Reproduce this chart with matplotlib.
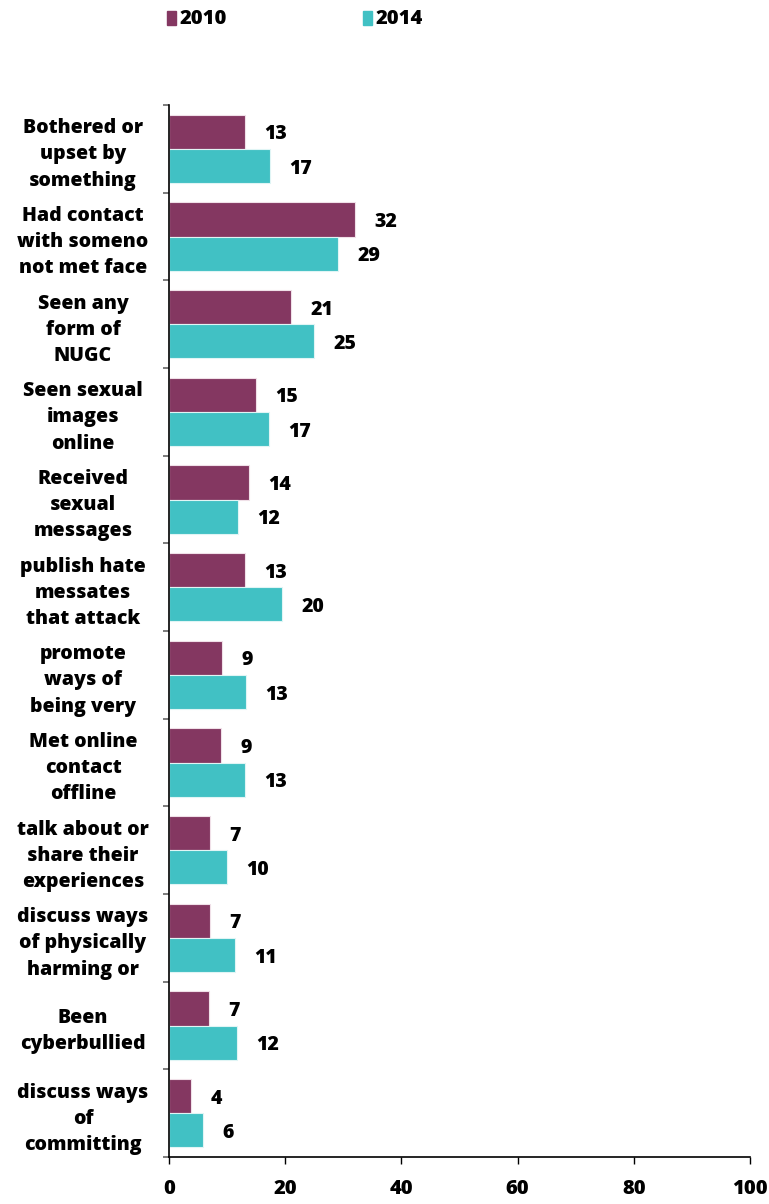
import matplotlib
matplotlib.use("Agg")
import matplotlib.pyplot as plt
import numpy as np
from matplotlib.patches import Rectangle

categories = [
    "Bothered or\nupset by\nsomething",
    "Had contact\nwith someno\nnot met face",
    "Seen any\nform of\nNUGC",
    "Seen sexual\nimages\nonline",
    "Received\nsexual\nmessages",
    "publish hate\nmessates\nthat attack",
    "promote\nways of\nbeing very",
    "Met online\ncontact\noffline",
    "talk about or\nshare their\nexperiences",
    "discuss ways\nof physically\nharming or",
    "Been\ncyberbullied",
    "discuss ways\nof\ncommitting",
]
series = ["2010", "2014"]
values_2010 = [13.1, 32.0, 21.0, 14.9, 13.8, 13.0, 9.2, 9.0, 7.1, 7.1, 6.8, 3.8]
values_2014 = [17.3, 29.1, 25.0, 17.2, 11.9, 19.5, 13.3, 13.0, 9.9, 11.4, 11.7, 5.9]
labels_2010 = ["13", "32", "21", "15", "14", "13", "9", "9", "7", "7", "7", "4"]
labels_2014 = ["17", "29", "25", "17", "12", "20", "13", "13", "10", "11", "12", "6"]
xticks = [0, 20, 40, 60, 80, 100]

c2010 = "#843761"
c2014 = "#41C1C4"
FONT = ["Open Sans", "DejaVu Sans"]
W = 800

fig = plt.figure(figsize=(7.69, 12.04), dpi=100)
ax = fig.add_axes([169/769, 47/1204, 581/769, 1052/1204])

n = len(categories)
centers = np.arange(n)
h = 0.39
ax.barh(centers - h/2, values_2010, height=h, color=c2010, edgecolor="#f0e0e8", linewidth=0.8)
ax.barh(centers + h/2, values_2014, height=h, color=c2014, edgecolor="#e0f5f5", linewidth=0.8)

ax.set_ylim(n - 0.5, -0.5)
ax.set_xlim(0, 100)

for i in range(n):
    ax.annotate(labels_2010[i], (values_2010[i], i - h/2 + 0.03), xytext=(14, 0),
                textcoords="offset points", va="center", ha="left",
                fontsize=14, fontweight=W, family=FONT)
    ax.annotate(labels_2014[i], (values_2014[i], i + h/2 + 0.03), xytext=(14, 0),
                textcoords="offset points", va="center", ha="left",
                fontsize=14, fontweight=W, family=FONT)

ax.set_yticks(centers)
ax.set_yticklabels(categories, ha="center", fontsize=14, fontweight=W,
                   family=FONT, linespacing=1.42)
ax.tick_params(axis="y", which="major", length=0, pad=86*0.72)
ax.set_yticks(np.arange(n + 1) - 0.5, minor=True)
ax.tick_params(axis="y", which="minor", length=4, color="#666666", width=1.2)

ax.set_xticks(xticks)
ax.set_xticklabels([str(t) for t in xticks], fontsize=14.5, fontweight=W, family=FONT)
ax.tick_params(axis="x", length=5, width=1, pad=11)

for s in ["top", "right"]:
    ax.spines[s].set_visible(False)
ax.spines["left"].set_linewidth(1.2)
ax.spines["bottom"].set_linewidth(1.2)

# legend
for name, col, x0 in zip(series, [c2010, c2014], [167, 363]):
    fig.patches.append(Rectangle((x0/769, 1 - 25/1204), 9/769, 14/1204,
                                 transform=fig.transFigure, color=col))
    fig.text((x0 + 13)/769, 1 - 19/1204, name, ha="left", va="center",
             fontsize=14.5, fontweight=W, family=FONT)

fig.savefig("out.png", dpi=100)
